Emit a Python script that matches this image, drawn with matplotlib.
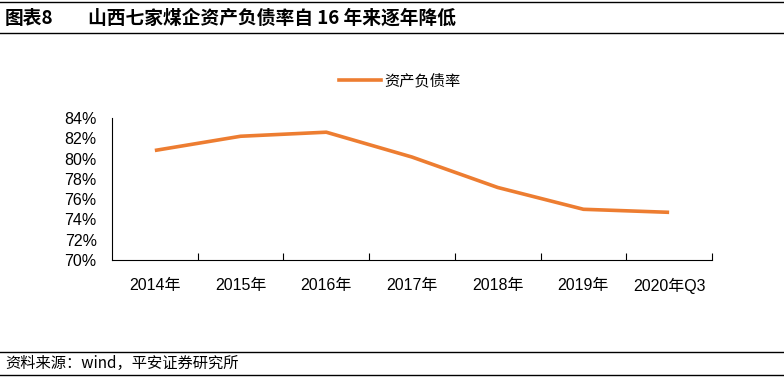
import matplotlib
matplotlib.use("Agg")
import matplotlib.pyplot as plt
from matplotlib.lines import Line2D
from matplotlib.ticker import FixedLocator, PercentFormatter

plt.rcParams["font.family"] = ["Liberation Sans", "Noto Sans CJK SC", "DejaVu Sans"]

years = ["2014年", "2015年", "2016年", "2017年", "2018年", "2019年", "2020年Q3"]
debt_ratio = [80.8, 82.2, 82.6, 80.15, 77.15, 75.0, 74.7]

title_tag = "图表8"
title_text = "山西七家煤企资产负债率自 16 年来逐年降低"
source_text = "资料来源：wind，平安证券研究所"
series_name = "资产负债率"

ORANGE = "#ED7D31"

fig = plt.figure(figsize=(7.84, 3.79), dpi=100)
ax = fig.add_axes([112 / 784, 1 - 260 / 379, 600 / 784, 142 / 379])

x = list(range(len(years)))
ax.plot(x, debt_ratio, color=ORANGE, lw=2.6, solid_capstyle="butt")

ax.set_xlim(-0.5, len(years) - 0.5)
ax.set_ylim(70, 84)
ax.set_yticks(range(70, 85, 2))
ax.yaxis.set_major_formatter(PercentFormatter(decimals=0))
ax.set_xticks(x)
ax.set_xticklabels(years)
ax.xaxis.set_minor_locator(FixedLocator([i + 0.5 for i in x]))
ax.tick_params(axis="x", which="major", length=0, pad=13, labelsize=11.5)
ax.tick_params(axis="x", which="minor", direction="in", length=5, width=0.8)
ax.tick_params(axis="y", length=0, labelsize=11.5, pad=11)

for side in ["top", "right"]:
    ax.spines[side].set_visible(False)
for side in ["left", "bottom"]:
    ax.spines[side].set_linewidth(0.8)

handle = Line2D([], [], color=ORANGE, lw=2.6)
fig.legend([handle], [series_name], loc="center", bbox_to_anchor=(400 / 784, 1 - 81 / 379),
           frameon=False, fontsize=11, handlelength=2.7, handletextpad=0.25)

# header and footer rules
fig.add_artist(Line2D([0, 1], [1 - 1.5 / 379] * 2, color="black", lw=1))
fig.add_artist(Line2D([0, 1], [1 - 33 / 379] * 2, color="black", lw=1))
fig.add_artist(Line2D([0, 1], [1 - 352 / 379] * 2, color="black", lw=1))
fig.add_artist(Line2D([0, 1], [1 - 375 / 379] * 2, color="black", lw=1))

fig.text(5 / 784, 1 - 18 / 379, title_tag, fontsize=13.5, fontweight="bold", va="center",
         family=["Noto Sans CJK SC"])
fig.text(88 / 784, 1 - 18 / 379, title_text, fontsize=13.5, fontweight="bold", va="center",
         family=["Noto Sans CJK SC"])
fig.text(5 / 784, 1 - 363.5 / 379, source_text, fontsize=11, style="italic", va="center",
         family=["Noto Sans CJK SC"])

fig.savefig("out.png", dpi=100)
